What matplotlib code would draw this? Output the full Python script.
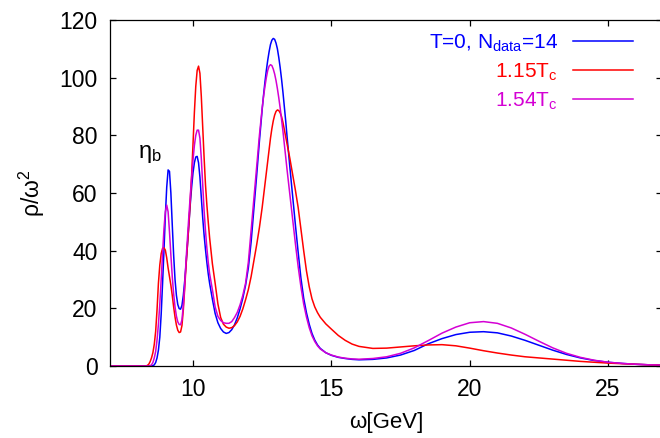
import matplotlib
matplotlib.use("Agg")
import matplotlib.pyplot as plt

plt.rcParams['font.family'] = ['Liberation Sans', 'DejaVu Sans']
plt.rcParams['mathtext.fontset'] = 'custom'
plt.rcParams['mathtext.rm'] = 'Liberation Sans'
plt.rcParams['mathtext.it'] = 'Liberation Sans:italic'
plt.rcParams['mathtext.bf'] = 'Liberation Sans:bold'

# omega [GeV] sample positions
omega = [7.0, 8.0,
         8.30, 8.35, 8.40, 8.45, 8.50, 8.55, 8.60, 8.65, 8.70, 8.75,
         8.80, 8.85, 8.90, 8.95, 9.00, 9.05, 9.10, 9.15, 9.20, 9.25,
         9.30, 9.35, 9.40, 9.45, 9.50, 9.55, 9.60, 9.65, 9.70, 9.75,
         9.80, 9.85, 9.90, 9.95, 10.00, 10.05, 10.10, 10.15, 10.20, 10.25,
         10.30, 10.35, 10.40, 10.45, 10.50, 10.55, 10.60,
         10.7, 10.8, 10.9, 11.0, 11.1, 11.2, 11.3, 11.4, 11.5, 11.6,
         11.7, 11.8, 11.9, 12.0, 12.1, 12.2, 12.3, 12.4,
         12.50, 12.55, 12.60, 12.65, 12.70, 12.75, 12.80, 12.85, 12.90, 12.95,
         13.00, 13.05, 13.10, 13.15, 13.20, 13.25, 13.30, 13.35, 13.40,
         13.5, 13.6, 13.7, 13.8, 13.9, 14.0,
         14.1, 14.2, 14.3, 14.4, 14.5, 14.6, 14.8,
         15.0, 15.25, 15.5, 15.75, 16.0,
         16.5, 17.0, 17.5, 18.0, 18.5, 19.0, 19.5, 20.0, 20.5, 21.0,
         21.5, 22.0, 22.5, 23.0, 23.5, 24.0, 24.5, 25.0, 25.5, 26.0,
         26.5, 27.0]

# T = 0, N_data = 14
rho_T0 = [0, 0,
          0, 0, 0, 0, 0, 0.1, 0.4, 1.2, 2.8, 5.5,
          10, 18, 28.7, 40, 52, 62, 68, 67.5, 60, 49,
          38.5, 30, 24.5, 21.3, 19.9, 19.7, 21, 24.5, 29.5, 35.5,
          42, 49, 56, 62, 67, 70.5, 72.5, 72.7, 70.5, 65.5,
          58.5, 51.5, 45.5, 40.5, 36, 32, 28.7,
          23.2, 18.2, 15.0, 13.0, 11.8, 11.3, 11.6, 12.6, 14.3, 16.7,
          19.8, 23.5, 28, 34, 43, 54.5, 66, 78,
          89, 94, 98.5, 102.5, 106, 109, 111.5, 113, 113.6, 113.3,
          112, 110, 107, 103.5, 99.5, 95, 90, 85, 79.5,
          69, 59, 49, 39.5, 30.5, 23.5,
          18.5, 14.5, 11.3, 9.0, 7.3, 6.1, 4.6,
          3.7, 3.0, 2.6, 2.3, 2.15,
          2.3, 2.8, 3.8, 5.4, 7.7, 9.5, 10.9, 11.7, 11.9, 11.5,
          10.4, 8.9, 7.2, 5.5, 4.0, 2.8, 1.9, 1.3, 0.9, 0.6,
          0.4, 0.3]

# 1.15 Tc
rho_115 = [0, 0,
           0, 0.2, 0.6, 1.5, 2.8, 4.6, 7.5, 12, 19.5, 28.7,
           35, 39, 40.8, 41, 40.2, 37.5, 34, 31, 28, 24.5,
           20.5, 17, 14.2, 12.4, 11.6, 11.8, 14, 19.5, 27, 35,
           42, 49, 57, 66, 77, 88, 97, 102.5, 104, 101.5,
           93.5, 83, 72.5, 63, 56, 50, 44.5,
           35.5, 28.7, 21.5, 16.8, 14.5, 13.5, 13.1, 13.3, 14.0, 15.3,
           17.2, 19.8, 23, 26.5, 31, 36.5, 42, 48,
           55, 59, 63, 67, 71, 75, 79, 82.3, 85, 87,
           88.3, 88.8, 88.6, 87.8, 86.5, 84.5, 82, 79.5, 77,
           72, 66.5, 61, 55, 47.5, 40,
           33, 27.5, 23.3, 20.5, 18.5, 16.9, 14.6,
           12.8, 10.6, 8.9, 7.6, 6.8,
           6.1, 6.2, 6.6, 7.0, 7.3, 7.4, 7.0, 6.2, 5.3, 4.5,
           3.8, 3.2, 2.8, 2.4, 2.0, 1.6, 1.3, 1.0, 0.8, 0.6,
           0.4, 0.3]

# 1.54 Tc
rho_154 = [0, 0,
           0, 0, 0, 0.1, 0.4, 1.2, 2.8, 5, 9, 14.5,
           21.5, 30, 39, 47.5, 53.5, 55.8, 53.5, 46.5, 38.5, 31,
           25, 20.5, 17.3, 15.3, 14.4, 14.3, 16, 21, 28, 37,
           44.5, 52, 59, 65.5, 71.5, 76.5, 80, 81.8, 81.8, 79,
           72, 63, 54, 47, 41, 36, 32,
           26.5, 20.5, 17.2, 15.8, 15.0, 14.8, 14.8, 15.4, 16.8, 18.6,
           21.2, 24.5, 28.7, 36, 47, 58, 69, 80,
           89.5, 93.5, 97, 100, 102.5, 104, 104.5, 104.2, 103, 101.3,
           99, 96.2, 93, 89.5, 85.5, 81.5, 77, 72.5, 68,
           59.5, 51, 42.5, 34.5, 27.5, 21.5,
           17, 13.3, 10.5, 8.5, 7.0, 5.9, 4.6,
           3.8, 3.1, 2.7, 2.45, 2.35,
           2.6, 3.2, 4.4, 6.3, 8.8, 11.4, 13.5, 15.0, 15.4, 14.8,
           13.2, 11.0, 8.6, 6.3, 4.4, 3.0, 2.0, 1.3, 0.9, 0.6,
           0.4, 0.3]

assert len(omega) == len(rho_T0) == len(rho_115) == len(rho_154)

labels = [r'T=0, N$_{\mathrm{data}}$=14', r'1.15T$_{\mathrm{c}}$', r'1.54T$_{\mathrm{c}}$']
colors = ['#0000ff', '#ff0000', '#d400d4']
x_ticks = [10, 15, 20, 25]
y_ticks = [0, 20, 40, 60, 80, 100, 120]

fig = plt.figure(figsize=(6.6, 4.38), dpi=100)
ax = fig.add_axes([110/660, 1 - 366/438, 552/660, 346/438])

for rho, lab, col in zip([rho_T0, rho_115, rho_154], labels, colors):
    ax.plot(omega, rho, color=col, lw=1.1, label=lab)

ax.set_xlim(7, 26.95)
ax.set_ylim(0, 120)
ax.set_xticks(x_ticks)
ax.set_yticks(y_ticks)
ax.tick_params(direction='in', top=True, right=True, length=4.5, width=0.9,
               labelsize=16.5, pad=9)
for s in ax.spines.values():
    s.set_linewidth(0.9)

ax.set_xlabel('ω[GeV]', fontsize=16)
ax.xaxis.set_label_coords(0.5, -(412 - 366) / 346)
ax.set_ylabel(r'ρ/ω$^{2}$', fontsize=16.5)
ax.yaxis.set_label_coords(-(110 - 47) / 552, 0.5)

ax.text(8.45, 73.5, r'η$_{\mathrm{b}}$', fontsize=17, ha='center', va='center')

leg = ax.legend(loc='upper right', bbox_to_anchor=((633 - 110) / 552, 1 - 12.3 / 346),
                frameon=False, markerfirst=False, fontsize=15,
                handlelength=2.9, handletextpad=0.7, labelspacing=0.38,
                borderaxespad=0.0, borderpad=0.0)
for t, c in zip(leg.get_texts(), colors):
    t.set_color(c)

fig.savefig('out.png', dpi=100)
